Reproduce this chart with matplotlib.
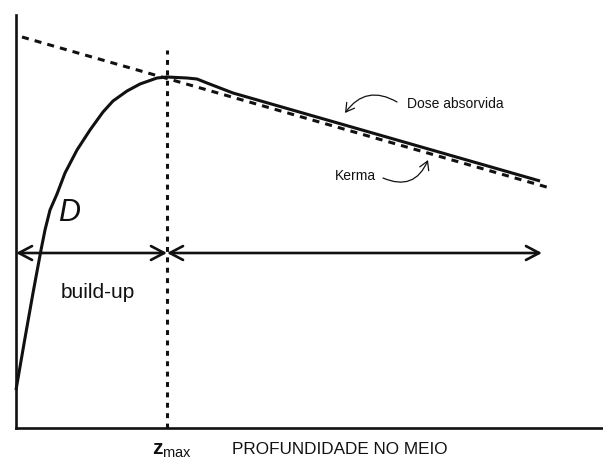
import matplotlib
matplotlib.use("Agg")
import matplotlib.pyplot as plt

plt.rcParams["font.family"] = ["Liberation Sans", "DejaVu Sans"]
plt.rcParams["mathtext.fontset"] = "custom"
plt.rcParams["mathtext.rm"] = "Liberation Sans"
plt.rcParams["mathtext.bf"] = "Liberation Sans:bold"
plt.rcParams["mathtext.it"] = "Liberation Sans:italic"

# depth / dose in arbitrary units (depth 0 = surface)
dose_depth = [0, 9, 17, 25, 29, 34, 41, 49, 61, 74, 87, 97, 111, 124, 141,
              151, 171, 181, 191, 217, 524]
dose_value = [38, 90, 135, 178, 198, 218, 234, 255, 278, 298, 316, 327, 337,
              344, 350, 351, 350, 349, 345, 335, 247]

kerma_depth = [6, 534]
kerma_value = [391, 240]

z_max = 151
buildup_level = 175
depth_end = 526

fig = plt.figure(figsize=(6.03, 4.59), dpi=100)
ax = fig.add_axes([16 / 603, 31 / 459, 587 / 603, 413 / 459])
ax.set_xlim(0, 587)
ax.set_ylim(0, 413)

for side in ("top", "right"):
    ax.spines[side].set_visible(False)
for side in ("left", "bottom"):
    ax.spines[side].set_linewidth(1.9)
    ax.spines[side].set_color("#111111")
ax.set_xticks([])
ax.set_yticks([])

# absorbed dose curve and kerma
ax.plot(dose_depth, dose_value, color="#111111", lw=2.2, solid_joinstyle="round",
        solid_capstyle="butt", clip_on=False)
ax.plot(kerma_depth, kerma_value, color="#111111", lw=2.2,
        linestyle=(0, (2.3, 2.0)), clip_on=False)

# depth of maximum dose
ax.plot([z_max, z_max], [0, 378], color="#111111", lw=2.2,
        linestyle=(0, (1.6, 1.8)))

arrow = dict(arrowstyle="<->,head_length=0.95,head_width=0.5", color="#111111",
             lw=1.9, shrinkA=0, shrinkB=0, mutation_scale=10)
ax.annotate("", xy=(0, buildup_level), xytext=(z_max, buildup_level),
            arrowprops=arrow, annotation_clip=False)
ax.annotate("", xy=(z_max, buildup_level), xytext=(depth_end, buildup_level),
            arrowprops=arrow, annotation_clip=False)

ax.text(53, 215, "D", fontsize=22, fontstyle="italic", ha="center", va="center",
        color="#111111")
ax.text(82, 135, "build-up", fontsize=15, ha="center", va="center", color="#111111")

ax.text(z_max + 5, -22, r"$\mathbf{z}_{\mathrm{max}}$", fontsize=15, ha="center",
        va="center", color="#111111", clip_on=False)
ax.text(216, -21, "PROFUNDIDADE NO MEIO", fontsize=12.3, ha="left", va="center",
        color="#111111", clip_on=False)

ax.text(391, 324, "Dose absorvida", fontsize=10, ha="left", va="center",
        color="#111111")
ax.annotate("", xy=(329, 315), xytext=(381, 326),
            arrowprops=dict(arrowstyle="->,head_length=0.6,head_width=0.35",
                            color="#111111", lw=0.9,
                            connectionstyle="arc3,rad=0.45",
                            shrinkA=0, shrinkB=0))

ax.text(319, 252, "Kerma", fontsize=10, ha="left", va="center", color="#111111")
ax.annotate("", xy=(412, 268), xytext=(367, 250),
            arrowprops=dict(arrowstyle="->,head_length=0.6,head_width=0.35",
                            color="#111111", lw=0.9,
                            connectionstyle="arc3,rad=0.5",
                            shrinkA=0, shrinkB=0))

fig.savefig("out.png", dpi=100)
